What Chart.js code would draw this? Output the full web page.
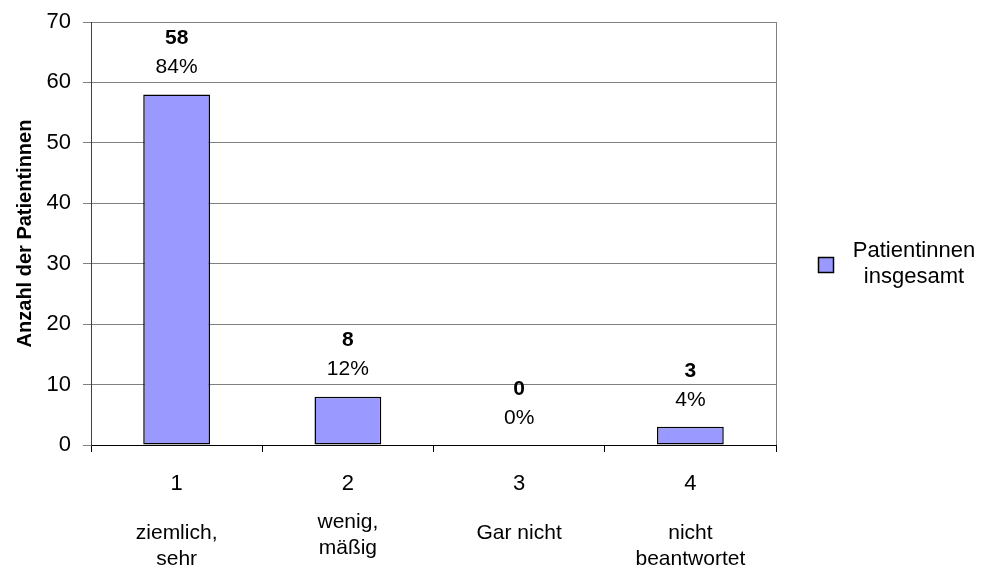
<!DOCTYPE html>
<html>
<head>
<meta charset="utf-8">
<script src="https://cdn.jsdelivr.net/npm/chart.js@4/dist/chart.umd.min.js"></script>
<style>
  html, body { margin: 0; padding: 0; background: #fff; }
  #wrap { position: relative; width: 981px; height: 572px; }
</style>
</head>
<body>
<div id="wrap"><canvas id="chart"></canvas></div>
<script>
const categories = ["1", "2", "3", "4"];
const categoryTexts = [["ziemlich,", "sehr"], ["wenig,", "mäßig"], ["Gar nicht"], ["nicht", "beantwortet"]];
const counts = [58, 8, 0, 3];
const percents = ["84%", "12%", "0%", "4%"];
const seriesName = ["Patientinnen", "insgesamt"];
const yTicks = [0, 10, 20, 30, 40, 50, 60, 70];

const FONT = "'Liberation Sans', Arial, sans-serif";

// labels above the bars: count (bold) and percentage
const barLabels = {
  id: "barLabels",
  afterDatasetsDraw(chart) {
    const ctx = chart.ctx;
    const meta = chart.getDatasetMeta(0);
    ctx.save();
    ctx.fillStyle = "#000";
    ctx.textAlign = "center";
    ctx.textBaseline = "middle";
    meta.data.forEach((bar, i) => {
      ctx.font = "bold 21px " + FONT;
      ctx.fillText(String(counts[i]), bar.x, bar.y - 56);
      ctx.font = "21px " + FONT;
      ctx.fillText(percents[i], bar.x, bar.y - 27);
    });
    ctx.restore();
  }
};

// plot border on the right, category texts under the numbers, legend
const extras = {
  id: "extras",
  afterDraw(chart) {
    const ctx = chart.ctx;
    const a = chart.chartArea;
    const xs = chart.scales.x;
    ctx.save();
    ctx.strokeStyle = "#808080";
    ctx.lineWidth = 1;
    ctx.beginPath();
    ctx.moveTo(Math.round(a.right) + 0.5, a.top);
    ctx.lineTo(Math.round(a.right) + 0.5, a.bottom);
    ctx.stroke();

    ctx.fillStyle = "#000";
    ctx.font = "21px " + FONT;
    ctx.textAlign = "center";
    ctx.textBaseline = "middle";
    categoryTexts.forEach((lines, i) => {
      const x = xs.getPixelForValue(i);
      const y0 = i === 1 ? 522 : 533;
      lines.forEach((t, j) => ctx.fillText(t, x, y0 + j * 26));
    });

    // legend
    ctx.fillStyle = "#9999ff";
    ctx.fillRect(818.5, 257.5, 15, 15);
    ctx.strokeStyle = "#000";
    ctx.lineWidth = 1.5;
    ctx.strokeRect(818.5, 257.5, 15, 15);
    ctx.fillStyle = "#000";
    ctx.font = "22px " + FONT;
    ctx.fillText(seriesName[0], 914, 251);
    ctx.fillText(seriesName[1], 914, 277);
    ctx.restore();
  }
};

new Chart(document.getElementById("chart").getContext("2d"), {
  type: "bar",
  data: {
    labels: categories,
    datasets: [{
      label: seriesName.join(" "),
      data: counts,
      backgroundColor: "#9999ff",
      borderColor: "#000",
      borderWidth: 1.5,
      borderSkipped: false,
      barPercentage: 0.39,
      categoryPercentage: 1
    }]
  },
  options: {
    responsive: true,
    maintainAspectRatio: false,
    animation: false,
    layout: { padding: { top: 22, right: 205, left: 0, bottom: 0 } },
    plugins: {
      legend: { display: false },
      tooltip: { enabled: false }
    },
    scales: {
      x: {
        grid: { display: true, drawOnChartArea: false, drawTicks: true, tickLength: 7, offset: true, color: "#000" },
        border: { color: "#000" },
        ticks: { color: "#000", font: { size: 22, family: FONT }, padding: 19 },
        afterFit(scale) { scale.height = 127; }
      },
      y: {
        min: 0,
        max: 70,
        afterBuildTicks(scale) { scale.ticks = yTicks.map(v => ({ value: v })); },
        grid: { color: "#808080", tickLength: 8, drawTicks: true, tickColor: "#808080" },
        border: { color: "#404040" },
        ticks: { color: "#000", font: { size: 22, family: FONT }, padding: 12 },
        title: {
          display: true,
          text: "Anzahl der Patientinnen",
          color: "#000",
          font: { size: 20, weight: "bold", family: FONT },
          padding: { top: 13, bottom: 0 }
        },
        afterFit(scale) {
          scale.width = 91;
          scale.paddingTop = 0;
          scale.paddingBottom = 0;
        }
      }
    }
  },
  plugins: [barLabels, extras]
});
</script>
</body>
</html>
